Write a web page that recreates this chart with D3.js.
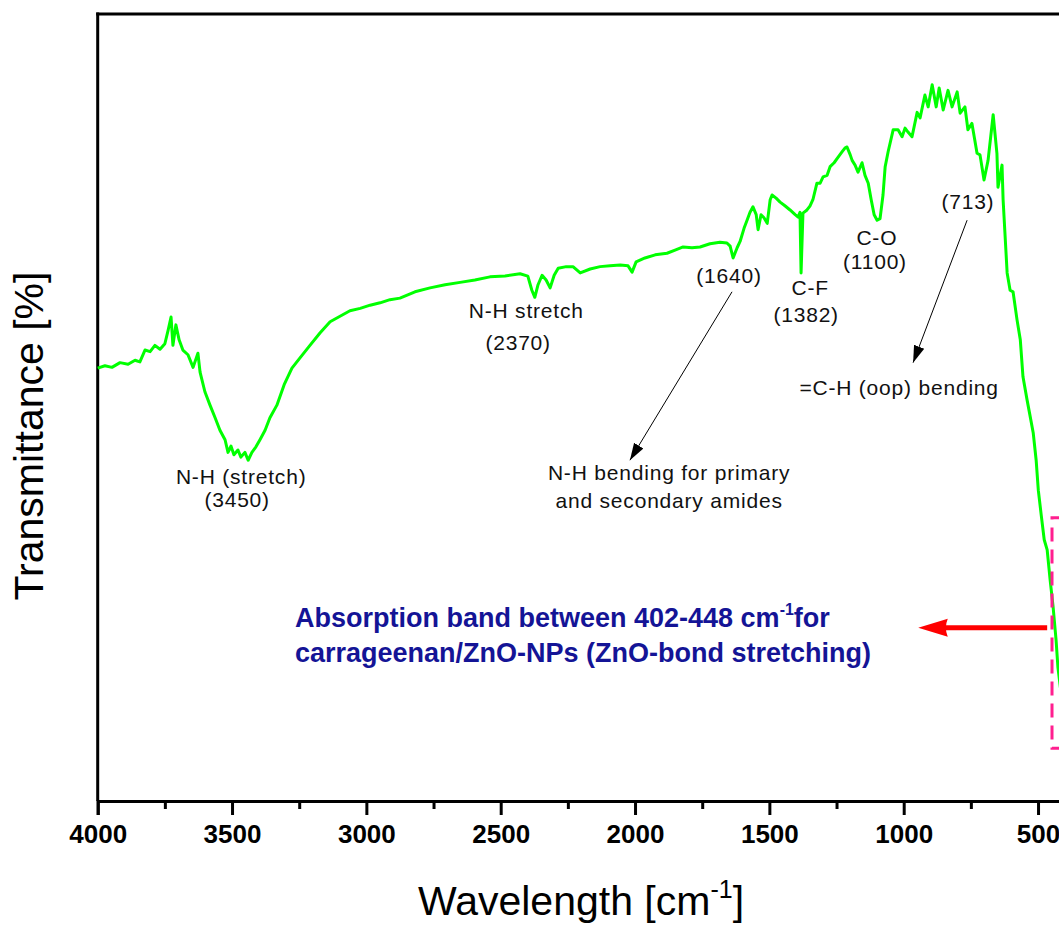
<!DOCTYPE html>
<html>
<head>
<meta charset="utf-8">
<script src="https://cdn.jsdelivr.net/npm/d3@7"></script>
<style>
  html, body { margin: 0; padding: 0; background: #ffffff; }
  svg { display: block; }
</style>
</head>
<body>
<div id="chart"></div>
<script>
// ---- Data ----
const wavenumber = [
  4000, 3973, 3947, 3917, 3887, 3861, 3843, 3824, 3805, 3787, 3768, 3750, 3738, 3727, 3720, 3709, 3697, 3683, 3664, 3645,
  3627, 3619, 3601, 3582, 3563, 3545, 3526, 3515, 3504, 3493, 3478, 3467, 3452, 3440, 3426, 3411, 3396, 3377, 3359, 3333,
  3306, 3277, 3247, 3210, 3172, 3135, 3098, 3061, 3023, 2986, 2949, 2912, 2875, 2819, 2763, 2707, 2651, 2596, 2540, 2484,
  2428, 2399, 2384, 2373, 2361, 2346, 2331, 2316, 2301, 2286, 2256, 2231, 2204, 2167, 2130, 2093, 2055, 2026, 2011, 1996,
  1963, 1925, 1881, 1851, 1821, 1788, 1758, 1721, 1684, 1658, 1646, 1635, 1620, 1609, 1594, 1583, 1572, 1561, 1549, 1542,
  1531, 1520, 1508, 1497, 1490, 1475, 1460, 1441, 1423, 1404, 1393, 1386, 1382, 1375, 1360, 1349, 1338, 1323, 1311, 1300,
  1285, 1274, 1259, 1244, 1229, 1218, 1211, 1199, 1192, 1181, 1170, 1155, 1144, 1132, 1121, 1110, 1099, 1088, 1077, 1069,
  1058, 1039, 1021, 1006, 995, 984, 969, 950, 939, 921, 909, 894, 879, 868, 853, 835, 820, 801, 790, 772,
  761, 746, 727, 716, 701, 686, 667, 653, 649, 634, 630, 615, 604, 593, 578, 566, 556, 541, 530, 518,
  507, 499, 488, 477, 466, 455, 444, 433, 426, 411
];
const transmittance = [
  55.0, 55.3, 55.1, 55.7, 55.5, 56.0, 55.8, 57.3, 57.1, 57.9, 57.4, 58.1, 59.8, 61.5, 57.9, 60.5, 58.6, 57.3, 56.7, 55.1,
  56.9, 54.5, 52.0, 50.3, 48.7, 47.1, 45.9, 44.3, 45.1, 44.0, 44.6, 43.7, 44.3, 43.3, 44.3, 45.0, 45.9, 47.1, 48.7, 50.3,
  52.9, 55.0, 56.3, 57.9, 59.5, 60.9, 61.6, 62.3, 62.6, 63.0, 63.3, 63.7, 63.9, 64.7, 65.2, 65.6, 65.9, 66.2, 66.6, 66.7,
  67.0, 66.7, 64.9, 64.0, 65.6, 66.8, 66.2, 65.2, 66.8, 67.7, 67.9, 67.9, 67.1, 67.6, 67.9, 68.0, 68.1, 68.0, 67.2, 68.5,
  69.0, 69.4, 69.6, 70.0, 70.4, 70.3, 70.4, 70.8, 71.0, 70.9, 70.5, 69.0, 70.3, 71.1, 72.8, 73.8, 74.8, 75.5, 74.5, 72.6,
  74.5, 74.1, 73.4, 76.4, 77.0, 76.6, 76.1, 75.6, 75.1, 74.5, 74.2, 74.8, 67.1, 74.7, 75.1, 75.6, 76.4, 78.5, 78.5, 79.3,
  79.5, 80.6, 81.1, 81.8, 82.5, 83.0, 83.1, 82.1, 81.4, 80.8, 79.9, 81.1, 79.5, 78.5, 76.4, 74.5, 73.8, 74.0, 77.0, 80.6,
  82.5, 85.3, 85.3, 84.4, 85.5, 85.0, 84.4, 87.5, 86.8, 89.7, 88.2, 91.0, 88.2, 90.6, 87.8, 90.3, 88.2, 90.1, 87.4, 88.2,
  85.3, 86.1, 82.3, 82.1, 78.9, 81.4, 87.2, 82.3, 78.0, 80.8, 76.4, 67.1, 64.9, 64.7, 61.1, 58.6, 53.9, 51.0, 49.0, 46.8,
  43.3, 39.5, 36.3, 33.2, 31.9, 28.1, 24.7, 20.5, 17.0, 12.8
];
const xTickValues = [4000, 3500, 3000, 2500, 2000, 1500, 1000, 500];
const xMinorTicks = [3750, 3250, 2750, 2250, 1750, 1250, 750];
const bandRange = [448, 402];

// ---- Layout ----
const W = 1059, H = 925;
const FONT = "'Liberation Sans', Arial, Helvetica, sans-serif";
const svg = d3.select("#chart").append("svg").attr("width", W).attr("height", H);

const x = d3.scaleLinear().domain([4000, 400]).range([97.7, 1064.9]);
const y = d3.scaleLinear().domain([0, 100]).range([801, 14]);

const data = wavenumber.map((w, i) => ({ w, t: transmittance[i] }));

// frame: left, top and right lines
svg.append("line").attr("x1", x(4000)).attr("x2", x(4000)).attr("y1", y(100) - 1.5).attr("y2", y(0))
  .attr("stroke", "#000").attr("stroke-width", 3);
svg.append("line").attr("x1", x(4000) - 1.5).attr("x2", x(400) + 2).attr("y1", y(100)).attr("y2", y(100))
  .attr("stroke", "#000").attr("stroke-width", 3);
svg.append("line").attr("x1", x(400)).attr("x2", x(400)).attr("y1", y(100)).attr("y2", y(0))
  .attr("stroke", "#000").attr("stroke-width", 3);

// x axis
const xAxis = d3.axisBottom(x).tickValues(xTickValues).tickSize(14).tickPadding(10).tickFormat(d3.format("d"));
const gx = svg.append("g").attr("transform", `translate(0,${y(0)})`).call(xAxis);
gx.select(".domain").attr("stroke", "#000").attr("stroke-width", 3);
gx.selectAll(".tick line").attr("stroke", "#000").attr("stroke-width", 3);
gx.selectAll(".tick text").attr("font-family", FONT).attr("font-size", 26).attr("font-weight", "bold").attr("fill", "#000");
const xAxisMinor = d3.axisBottom(x).tickValues(xMinorTicks).tickSize(8).tickFormat("");
const gxm = svg.append("g").attr("transform", `translate(0,${y(0)})`).call(xAxisMinor);
gxm.select(".domain").remove();
gxm.selectAll(".tick line").attr("stroke", "#000").attr("stroke-width", 3);

// axis titles
const xt = svg.append("text").attr("x", 581).attr("y", 915).attr("text-anchor", "middle")
  .attr("font-family", FONT).attr("font-size", 41).attr("fill", "#000");
xt.append("tspan").text("Wavelength [cm");
xt.append("tspan").attr("font-size", 25).attr("dy", -17).text("-1");
xt.append("tspan").attr("dy", 17).text("]");

svg.append("text").attr("transform", "translate(43,436) rotate(-90)").attr("text-anchor", "middle")
  .attr("font-family", FONT).attr("font-size", 41).attr("fill", "#000").text("Transmittance [%]");

// spectrum line
const line = d3.line().x(d => x(d.w)).y(d => y(d.t));
svg.append("path").datum(data).attr("d", line).attr("fill", "none")
  .attr("stroke", "#00ff00").attr("stroke-width", 3).attr("stroke-linejoin", "round");

// annotations (positioned in data coordinates)
const labels = [
  { w: 3466, t: 40.3, s: "N-H (stretch)" },
  { w: 3481, t: 37.3, s: "(3450)" },
  { w: 2405, t: 61.4, s: "N-H stretch" },
  { w: 2435, t: 57.3, s: "(2370)" },
  { w: 1650, t: 65.8, s: "(1640)" },
  { w: 1873, t: 40.8, s: "N-H bending for primary" },
  { w: 1873, t: 37.2, s: "and secondary amides" },
  { w: 1348, t: 64.3, s: "C-F" },
  { w: 1363, t: 60.9, s: "(1382)" },
  { w: 1100, t: 70.6, s: "C-O" },
  { w: 1107, t: 67.6, s: "(1100)" },
  { w: 761, t: 75.2, s: "(713)" },
  { w: 1017, t: 51.6, s: "=C-H (oop) bending" }
];
svg.append("g").selectAll("text").data(labels).join("text")
  .attr("x", d => x(d.w)).attr("y", d => y(d.t)).attr("text-anchor", "middle")
  .attr("font-family", FONT).attr("font-size", 21).attr("letter-spacing", 0.8)
  .attr("fill", "#111").text(d => d.s);

// black arrows
const defs = svg.append("defs");
defs.append("marker").attr("id", "blk").attr("viewBox", "0 0 10 10").attr("refX", 10).attr("refY", 5)
  .attr("markerWidth", 17).attr("markerHeight", 17).attr("markerUnits", "userSpaceOnUse").attr("orient", "auto")
  .append("path").attr("d", "M0,1.8 L10,5 L0,8.2 Z").attr("fill", "#000");
const arrows = [
  { w1: 1639, t1: 64.7, w2: 2019, t2: 43.3 },
  { w1: 764, t1: 73.8, w2: 965, t2: 55.7 }
];
svg.append("g").selectAll("line").data(arrows).join("line")
  .attr("x1", d => x(d.w1)).attr("y1", d => y(d.t1)).attr("x2", d => x(d.w2)).attr("y2", d => y(d.t2))
  .attr("stroke", "#000").attr("stroke-width", 1).attr("marker-end", "url(#blk)");

// dashed band box
svg.append("rect").attr("x", x(bandRange[0])).attr("y", y(36.0))
  .attr("width", x(bandRange[1]) - x(bandRange[0])).attr("height", y(6.7) - y(36.0))
  .attr("fill", "none").attr("stroke", "#ff1f8f").attr("stroke-width", 3).attr("stroke-dasharray", "14,8");

// red arrow
svg.append("line").attr("x1", x(466)).attr("y1", y(22.0)).attr("x2", x(905)).attr("y2", y(22.0))
  .attr("stroke", "#ff0000").attr("stroke-width", 5);
svg.append("path").attr("d", `M${x(946)},${y(22.0)} L${x(836)},${y(22.0) - 9} Q${x(850)},${y(22.0)} ${x(836)},${y(22.0) + 9} Z`)
  .attr("fill", "#ff0000");

// blue note
const bt = svg.append("text").attr("x", 295).attr("y", 627).attr("font-family", FONT)
  .attr("font-size", 27).attr("font-weight", "bold").attr("fill", "#141496");
bt.append("tspan").text("Absorption band between 402-448 cm");
bt.append("tspan").attr("font-size", 16).attr("dy", -12).text("-1");
bt.append("tspan").attr("dy", 12).text("for");
svg.append("text").attr("x", 295).attr("y", 662).attr("font-family", FONT)
  .attr("font-size", 27).attr("font-weight", "bold").attr("fill", "#141496")
  .text("carrageenan/ZnO-NPs (ZnO-bond stretching)");
</script>
</body>
</html>
